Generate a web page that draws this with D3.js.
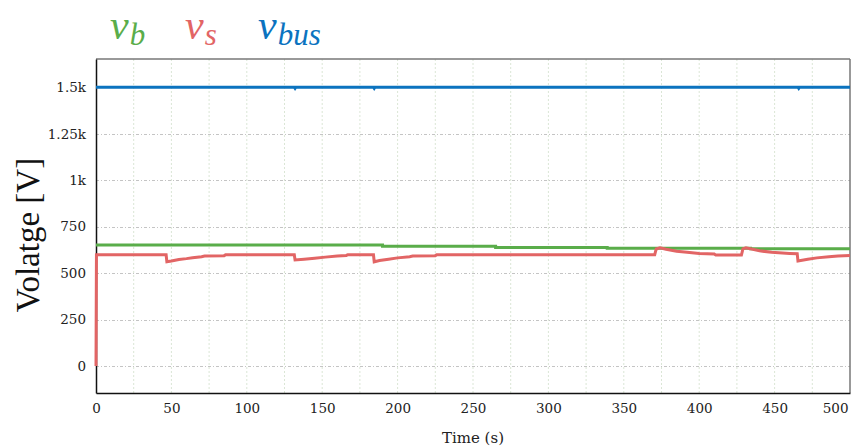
<!DOCTYPE html>
<html>
<head>
<meta charset="utf-8">
<script src="https://cdn.jsdelivr.net/npm/d3@7/dist/d3.min.js"></script>
<style>
  html, body { margin: 0; padding: 0; background: #fff; }
  svg { display: block; }
  .serif { font-family: "DejaVu Serif", "Noto Serif", "Liberation Serif", Tinos, "Times New Roman", Times, Georgia, serif; }
  .roman { font-family: "Liberation Serif", Tinos, "Times New Roman", Times, "Noto Serif", "DejaVu Serif", serif; }
</style>
</head>
<body>
<svg id="chart" width="854" height="447"></svg>
<script>
// Time axis ticks (labels every 50 s, grid every 25 s)
const xTickValues = [0, 50, 100, 150, 200, 250, 300, 350, 400, 450, 500];
const xGridValues = d3.range(0, 501, 25);
// Voltage ticks
const yTickValues = [0, 250, 500, 750, 1000, 1250, 1500];
const yTickLabels = ["0", "250", "500", "750", "1k", "1.25k", "1.5k"];

// Bus voltage v_bus
const busTime   = [0, 131.5, 132, 132.5, 184, 184.5, 185, 465.5, 466, 466.5, 500];
const busValues = [1500, 1500, 1494, 1500, 1500, 1494, 1500, 1500, 1494, 1500, 1500];

// Battery voltage v_b
const bTime   = [0, 190, 190, 265, 265, 339, 339, 434, 434, 500];
const bValues = [651, 651, 644, 644, 638, 638, 634, 634, 631, 631];

// Source voltage v_s
const sTime = [0, 0.3, 46.5, 47, 50, 55, 60, 64, 70, 72, 85, 86,
  131.5, 132, 138, 145, 152, 160, 166, 167,
  184, 184.5, 188, 194, 200, 208, 210, 225, 226,
  370.5, 371.5, 374, 378, 385, 392, 400, 410, 411,
  428, 429, 431, 440, 448, 460, 465, 465.5, 472, 478, 486, 492, 500];
const sValues = [0, 599, 599, 561, 565, 573, 578, 583, 588, 592, 594, 599,
  599, 571, 575, 580, 586, 592, 595, 599,
  599, 561, 568, 575, 582, 588, 592, 594, 599,
  599, 630, 636, 628, 618, 612, 606, 603, 597,
  597, 630, 636, 620, 612, 606, 604, 565, 575, 582, 588, 592, 595];

const colors = { b: "#5aad4a", s: "#e26565", bus: "#0b73bf" };

const svg = d3.select("#chart");
const margin = { left: 96, right: 4, top: 59, bottom: 54 };
const W = 854, H = 447;

const x = d3.scaleLinear().domain([0, 500]).range([margin.left, W - margin.right]);
const y = d3.scaleLinear().domain([-145, 1652]).range([H - margin.bottom, margin.top]);

// Vertical grid
svg.append("g").selectAll("line").data(xGridValues.filter(d => d > 0 && d < 500)).join("line")
  .attr("x1", d => x(d)).attr("x2", d => x(d))
  .attr("y1", y.range()[1]).attr("y2", y.range()[0])
  .attr("stroke", "#dbe6d6").attr("stroke-width", 1).attr("stroke-dasharray", "2,2");

// Horizontal grid
svg.append("g").selectAll("line").data(yTickValues).join("line")
  .attr("x1", x.range()[0]).attr("x2", x.range()[1])
  .attr("y1", d => Math.round(y(d)) + 0.5).attr("y2", d => Math.round(y(d)) + 0.5)
  .attr("stroke", "#c4c4c4").attr("stroke-width", 1).attr("stroke-dasharray", "3,2,1,2");

// Top and right frame
svg.append("line").attr("x1", x.range()[0]).attr("x2", x.range()[1])
  .attr("y1", margin.top).attr("y2", margin.top).attr("stroke", "#777").attr("stroke-width", 1.5);
svg.append("line").attr("x1", x.range()[1]).attr("x2", x.range()[1])
  .attr("y1", margin.top).attr("y2", y.range()[0]).attr("stroke", "#777").attr("stroke-width", 1.5);

// Axes
const xAxis = d3.axisBottom(x).tickValues(xTickValues).tickSize(0).tickPadding(10)
  .tickFormat(d3.format("d"));
const gx = svg.append("g").attr("transform", `translate(0,${y.range()[0]})`).call(xAxis);
gx.attr("font-family", null).attr("font-size", null);
gx.select(".domain").attr("stroke", "#111").attr("stroke-width", 1.5);
gx.selectAll("text").attr("class", "serif").style("font-size", "13.5px").attr("fill", "#222");
gx.selectAll(".tick").filter(d => d === 500).select("text")
  .attr("text-anchor", "end").attr("dx", "-2");

const yAxis = d3.axisLeft(y).tickValues(yTickValues).tickSize(0).tickPadding(10)
  .tickFormat((d, i) => yTickLabels[i]);
const gy = svg.append("g").attr("transform", `translate(${x.range()[0]},0)`).call(yAxis);
gy.attr("font-family", null).attr("font-size", null);
gy.select(".domain").attr("stroke", "#111").attr("stroke-width", 1.5);
gy.selectAll("text").attr("class", "serif").style("font-size", "13.5px").attr("fill", "#222");

// Series lines
const line = d3.line().x(d => x(d[0])).y(d => y(d[1]));
function drawSeries(times, values, color) {
  svg.append("path")
    .datum(times.map((t, i) => [t, values[i]]))
    .attr("fill", "none").attr("stroke", color).attr("stroke-width", 3)
    .attr("stroke-linejoin", "miter").attr("d", line);
}
drawSeries(busTime, busValues, colors.bus);
drawSeries(bTime, bValues, colors.b);
drawSeries(sTime, sValues, colors.s);

// Axis titles
svg.append("text").attr("class", "roman")
  .attr("transform", `translate(39,${(y(-145) + y(1652)) / 2 + 9}) rotate(-90)`)
  .attr("text-anchor", "middle")
  .style("font-size", "33px").attr("fill", "#111")
  .text("Volatge [V]");

svg.append("text").attr("class", "serif")
  .attr("x", 473).attr("y", 443)
  .attr("text-anchor", "middle")
  .style("font-size", "15px").attr("fill", "#222")
  .text("Time (s)");

// Legend
const legend = [
  { sub: "b", color: colors.b, x: 110 },
  { sub: "s", color: colors.s, x: 185 },
  { sub: "bus", color: colors.bus, x: 258 }
];
const lg = svg.append("g").attr("class", "roman").style("font-style", "italic");
legend.forEach(l => {
  const t = lg.append("text").attr("x", l.x).attr("y", 39).attr("fill", l.color);
  t.append("tspan").style("font-size", "42px").text("v");
  t.append("tspan").style("font-size", "31px").attr("dy", 6).attr("dx", 1).text(l.sub);
});
</script>
</body>
</html>
